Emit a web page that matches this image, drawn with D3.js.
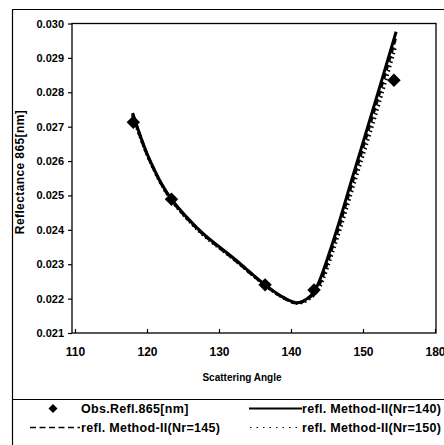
<!DOCTYPE html>
<html>
<head>
<meta charset="utf-8">
<script src="https://cdn.jsdelivr.net/npm/d3@7.9.0/dist/d3.min.js"></script>
<style>
  body { margin: 0; background: #fff; }
  svg { display: block; font-family: "Liberation Sans", Arial, sans-serif; font-weight: bold; }
</style>
</head>
<body>
<svg id="chart" width="444" height="445"></svg>
<script>
// observed reflectance (diamonds)
const obsAngle = [118.1, 123.4, 136.4, 143.2, 154.3];
const obsRefl = [0.02713, 0.02489, 0.0224, 0.02225, 0.02835];

// model curves
const nr140Angle = [118.0, 119.0, 120.0, 121.0, 122.0, 123.4, 125.5, 128.0, 132.0, 136.4, 139.0, 140.9, 142.6, 143.6, 145.9, 148.7, 151.5, 154.6];
const nr140Refl = [0.0274, 0.02678, 0.02622, 0.02576, 0.02535, 0.02489, 0.02437, 0.02385, 0.02318, 0.0224, 0.02203, 0.02188, 0.02206, 0.02235, 0.0237, 0.02564, 0.02758, 0.02976];
const nr145Angle = [118.0, 119.0, 120.0, 121.0, 122.0, 123.4, 125.5, 128.0, 132.0, 136.4, 139.0, 140.9, 142.6, 143.7, 146.0, 148.8, 151.6, 154.6];
const nr145Refl = [0.02736, 0.02675, 0.0262, 0.02574, 0.02533, 0.02487, 0.02435, 0.02383, 0.02316, 0.02239, 0.02202, 0.02187, 0.02204, 0.02232, 0.02366, 0.02558, 0.0275, 0.02962];
const nr150Angle = [118.0, 119.0, 120.0, 121.0, 122.0, 123.4, 125.5, 128.0, 132.0, 136.4, 139.0, 141.0, 142.8, 143.9, 146.2, 149.0, 151.8, 154.5];
const nr150Refl = [0.02732, 0.02672, 0.02618, 0.02572, 0.02531, 0.02485, 0.02433, 0.02381, 0.02315, 0.02238, 0.02201, 0.02186, 0.02203, 0.0223, 0.0236, 0.02548, 0.02735, 0.0293];

const xTicks = [110, 120, 130, 140, 150, 160];
const xTickLabels = ["110", "120", "130", "140", "150", "180"];
const yTicks = [0.021, 0.022, 0.023, 0.024, 0.025, 0.026, 0.027, 0.028, 0.029, 0.030];
const yTickLabels = ["0.021", "0.022", "0.023", "0.024", "0.025", "0.026", "0.027", "0.028", "0.029", "0.030"];

const svg = d3.select("#chart");

const x = d3.scaleLinear().domain([110, 160]).range([75, 435]);
const y = d3.scaleLinear().domain([0.021, 0.030]).range([333, 23.5]);

// outer frame
svg.append("line").attr("x1", 12.5).attr("x2", 12.5).attr("y1", 9).attr("y2", 445)
  .attr("stroke", "#000").attr("stroke-width", 1.2);
svg.append("line").attr("x1", 12).attr("x2", 444).attr("y1", 9.5).attr("y2", 9.5)
  .attr("stroke", "#000").attr("stroke-width", 1.2);
svg.append("line").attr("x1", 12).attr("x2", 444).attr("y1", 399.5).attr("y2", 399.5)
  .attr("stroke", "#000").attr("stroke-width", 1.2);

// plot frame
svg.append("rect")
  .attr("x", 72).attr("y", y(0.030))
  .attr("width", 436 - 72).attr("height", y(0.021) - y(0.030))
  .attr("fill", "none").attr("stroke", "#000").attr("stroke-width", 1.3);

// y axis
const yAxis = d3.axisLeft(y).tickValues(yTicks).tickSize(4).tickPadding(4)
  .tickFormat((d, i) => yTickLabels[i]);
const gy = svg.append("g").attr("transform", "translate(72,0)").call(yAxis);
gy.select(".domain").remove();
gy.selectAll("text").attr("font-size", 11).attr("font-weight", "bold")
  .attr("font-family", "Liberation Sans, Arial, sans-serif");
gy.selectAll("line").attr("stroke-width", 1.2);

// x axis (ticks inside)
const xAxis = d3.axisBottom(x).tickValues(xTicks).tickSize(-4).tickPadding(14)
  .tickFormat((d, i) => xTickLabels[i]);
const gx = svg.append("g").attr("transform", `translate(0,${y(0.021)})`).call(xAxis);
gx.select(".domain").remove();
gx.selectAll("text").attr("font-size", 12).attr("font-weight", "bold")
  .attr("font-family", "Liberation Sans, Arial, sans-serif");
gx.selectAll("line").attr("stroke-width", 1.2);

svg.append("text").attr("x", 242).attr("y", 381).attr("text-anchor", "middle")
  .attr("font-size", 10).text("Scattering Angle");

svg.append("text")
  .attr("transform", "translate(24,172) rotate(-90)")
  .attr("text-anchor", "middle").attr("font-size", 12).attr("letter-spacing", 0.4)
  .text("Reflectance 865[nm]");

// curves
const line = d3.line().x(d => x(d[0])).y(d => y(d[1])).curve(d3.curveCatmullRom.alpha(0.5));
const series = [
  { a: nr150Angle, r: nr150Refl, dash: "1.5,3", w: 3 },
  { a: nr145Angle, r: nr145Refl, dash: "6,3", w: 3 },
  { a: nr140Angle, r: nr140Refl, dash: null, w: 3 }
];
series.forEach(s => {
  svg.append("path")
    .datum(d3.zip(s.a, s.r))
    .attr("d", line)
    .attr("fill", "none").attr("stroke", "#000")
    .attr("stroke-width", s.w)
    .attr("stroke-dasharray", s.dash);
});

// observations
const diamond = d3.symbol().type(d3.symbolSquare).size(90);
svg.selectAll(".obs")
  .data(d3.zip(obsAngle, obsRefl))
  .join("path")
  .attr("class", "obs")
  .attr("d", diamond)
  .attr("transform", d => `translate(${x(d[0])},${y(d[1])}) rotate(45)`)
  .attr("fill", "#000");

// legend
const lg = svg.append("g").attr("font-size", 12.5).attr("letter-spacing", 0.3);
lg.append("path").attr("d", d3.symbol().type(d3.symbolSquare).size(40))
  .attr("transform", "translate(53,408.5) rotate(45)");
lg.append("text").attr("x", 81).attr("y", 413).text("Obs.Refl.865[nm]");

lg.append("line").attr("x1", 249).attr("x2", 302).attr("y1", 408.5).attr("y2", 408.5)
  .attr("stroke", "#000").attr("stroke-width", 2);
lg.append("text").attr("x", 302).attr("y", 413).text("refl. Method-II(Nr=140)");

lg.append("line").attr("x1", 30).attr("x2", 80).attr("y1", 427.5).attr("y2", 427.5)
  .attr("stroke", "#000").attr("stroke-width", 1.5).attr("stroke-dasharray", "6,3.5");
lg.append("text").attr("x", 81).attr("y", 432).text("refl. Method-II(Nr=145)");

lg.append("line").attr("x1", 250).attr("x2", 300).attr("y1", 427.5).attr("y2", 427.5)
  .attr("stroke", "#000").attr("stroke-width", 1.2).attr("stroke-dasharray", "1.5,5");
lg.append("text").attr("x", 302).attr("y", 432).text("refl. Method-II(Nr=150)");
</script>
</body>
</html>
